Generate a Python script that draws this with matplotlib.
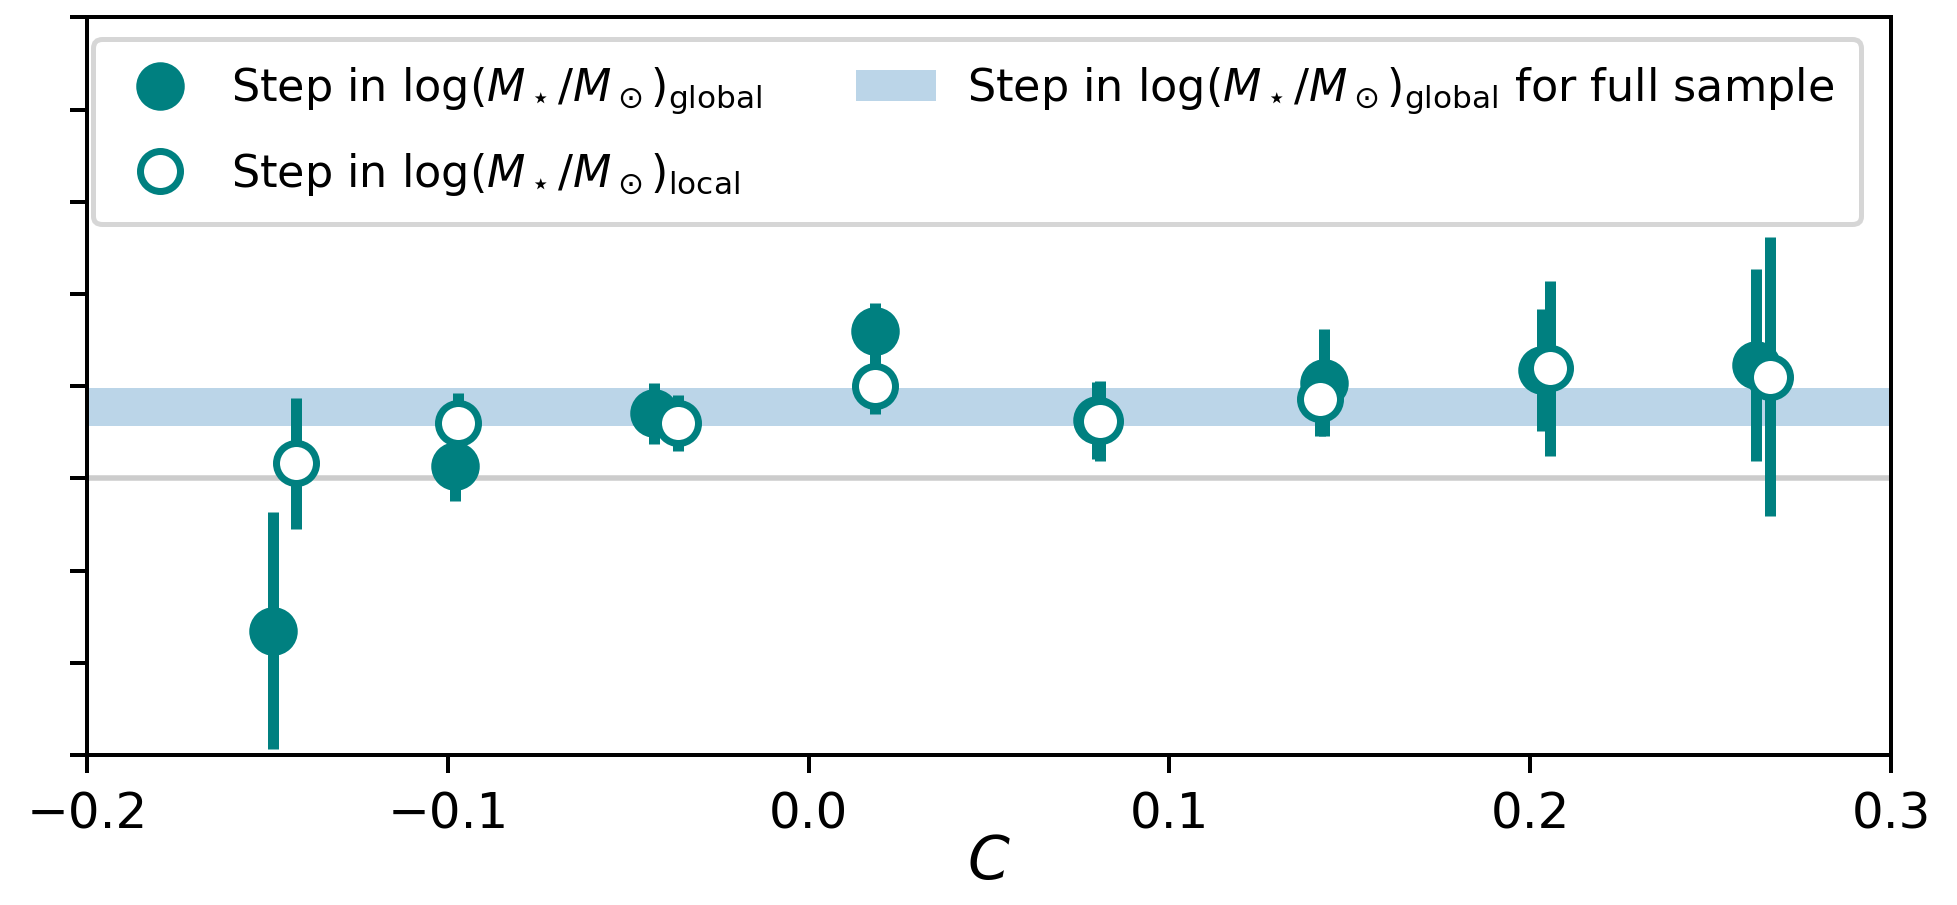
import matplotlib
matplotlib.use("Agg")
import matplotlib.pyplot as plt

# colour offset C of each bin and the measured mass step
c_global = [-0.1484, -0.0979, -0.0430, 0.0184, 0.0800, 0.1427, 0.2033, 0.2626]
step_global = [-0.0826, 0.0068, 0.0353, 0.0800, 0.0315, 0.0520, 0.0588, 0.0615]
err_global = [0.0642, 0.0190, 0.0167, 0.0154, 0.0210, 0.0290, 0.0330, 0.0520]

c_local = [-0.1422, -0.0971, -0.0363, 0.0184, 0.0808, 0.1418, 0.2055, 0.2664]
step_local = [0.0082, 0.0300, 0.0300, 0.0502, 0.0312, 0.0430, 0.0597, 0.0552]
err_local = [0.0357, 0.0166, 0.0150, 0.0153, 0.0217, 0.0200, 0.0475, 0.0755]

# step for the full sample (value and 1 sigma)
full_step = 0.0387
full_err = 0.0102

x_ticks = [-0.2, -0.1, 0.0, 0.1, 0.2, 0.3]
y_ticks = [-0.15, -0.10, -0.05, 0.0, 0.05, 0.10, 0.15, 0.20, 0.25]

col = "teal"
lab_g = r"Step in $\log(M_\star/M_\odot)_{\rm global}$"
lab_l = r"Step in $\log(M_\star/M_\odot)_{\rm local}$"
lab_f = r"Step in $\log(M_\star/M_\odot)_{\rm global}$ for full sample"

dpi = 360
fig, ax = plt.subplots(figsize=(1957 / dpi, 905 / dpi))
fig.subplots_adjust(left=0.0445, right=0.9663, bottom=0.1657, top=0.9807)

ax.axhline(0, color="#cccccc", lw=1.1, zorder=1)
band = ax.axhspan(full_step - full_err, full_step + full_err,
                  color="tab:blue", alpha=0.3, lw=0, zorder=0)

ax.errorbar(c_global, step_global, yerr=err_global, fmt="none",
            ecolor=col, elinewidth=2.2, zorder=2)
g, = ax.plot(c_global, step_global, "o", color=col, ms=8.3, mew=1.4,
             ls="none", zorder=3)
ax.errorbar(c_local, step_local, yerr=err_local, fmt="none",
            ecolor=col, elinewidth=2.2, zorder=4)
l, = ax.plot(c_local, step_local, "o", mfc="white", mec=col, ms=8.0,
             mew=1.4, ls="none", zorder=5)

ax.set_xlim(-0.2, 0.3)
ax.set_ylim(-0.15, 0.25)
ax.set_xticks(x_ticks)
ax.set_yticks(y_ticks)
ax.set_yticklabels([])
ax.set_xlabel(r"$C$", fontsize=12, labelpad=-1)

ax.legend([g, l, band], [lab_g, lab_l, lab_f], ncol=2, loc="upper left",
          bbox_to_anchor=(0.0035, 0.971), borderaxespad=0, fontsize=8.9,
          labelspacing=0.77, borderpad=0.6, columnspacing=2.1,
          handlelength=1.8, handletextpad=0.7)

fig.savefig("out.png", dpi=dpi)
